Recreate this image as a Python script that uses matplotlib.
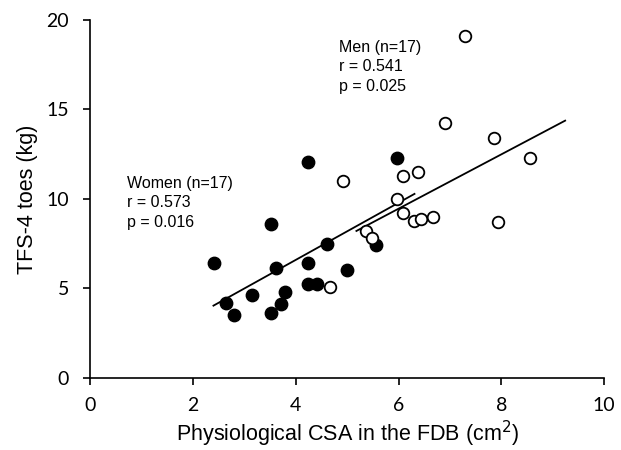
"""Scatter of TFS-4 toes strength against physiological CSA of the FDB."""

import matplotlib
matplotlib.use('Agg')
from matplotlib import pyplot as plt

# Women (filled circles)
women_csa = [2.41, 2.65, 2.80, 3.14, 3.51, 3.51, 3.61, 3.72, 3.80,
             4.24, 4.24, 4.24, 4.41, 4.60, 4.99, 5.57, 5.97]
women_tfs = [6.41, 4.21, 3.54, 4.64, 8.58, 3.65, 6.13, 4.13, 4.80,
             12.05, 6.41, 5.23, 5.23, 7.50, 6.02, 7.41, 12.27]
# Men (open circles)
men_csa = [4.66, 4.92, 5.36, 5.48, 5.97, 6.08, 6.09, 6.31, 6.38,
           6.43, 6.67, 6.90, 7.30, 7.86, 7.94, 8.56]
men_tfs = [5.10, 10.98, 8.21, 7.80, 9.97, 11.30, 9.19, 8.79, 11.49,
           8.90, 8.99, 14.26, 19.12, 13.39, 8.70, 12.27]

# Regression line end points
women_fit_x = [2.40, 6.31]
women_fit_y = [4.04, 10.28]
men_fit_x = [5.18, 9.24]
men_fit_y = [8.21, 14.37]

x_ticks = [0, 2, 4, 6, 8, 10]
y_ticks = [0, 5, 10, 15, 20]

_TEXT_FONT = ['Liberation Sans', 'DejaVu Sans']
_TICK_FONT = ['Lato', 'DejaVu Sans']

fig = plt.figure(figsize=(6.21, 4.5), dpi=100)
ax = fig.add_axes([0.145, 0.16, 0.828, 0.796])

ax.plot(women_fit_x, women_fit_y, color='black', lw=1.3, zorder=2)
ax.plot(men_fit_x, men_fit_y, color='black', lw=1.3, zorder=2)
ax.scatter(women_csa, women_tfs, s=80, c='black', edgecolors='black',
           zorder=3)
ax.scatter(men_csa, men_tfs, s=70, facecolors='white', edgecolors='black',
           linewidths=1.3, zorder=3)

ax.text(0.72, 11.3, 'Women (n=17)\nr = 0.573\np = 0.016', fontsize=11.5,
        family=_TEXT_FONT, va='top', ha='left', linespacing=1.4)
ax.text(4.85, 18.9, 'Men (n=17)\nr = 0.541\np = 0.025', fontsize=11.5,
        family=_TEXT_FONT, va='top', ha='left', linespacing=1.4)

ax.set_xlim(0, 10)
ax.set_ylim(0, 20)
ax.set_xticks(x_ticks)
ax.set_yticks(y_ticks)
ax.tick_params(direction='out', length=5, width=1.2, labelsize=14)
ax.tick_params(axis='x', pad=9)
ax.tick_params(axis='y', pad=10)
for lab in ax.get_xticklabels() + ax.get_yticklabels():
  lab.set_family(_TICK_FONT)
for side in ('top', 'right'):
  ax.spines[side].set_visible(False)
for side in ('left', 'bottom'):
  ax.spines[side].set_linewidth(1.2)

ax.set_xlabel('Physiological CSA in the FDB (cm$^2$)', fontsize=15.5,
              family=_TEXT_FONT, labelpad=3)
ax.set_ylabel('TFS-4 toes (kg)', fontsize=15.5, family=_TEXT_FONT,
              labelpad=6)

fig.savefig('out.png', dpi=100)
